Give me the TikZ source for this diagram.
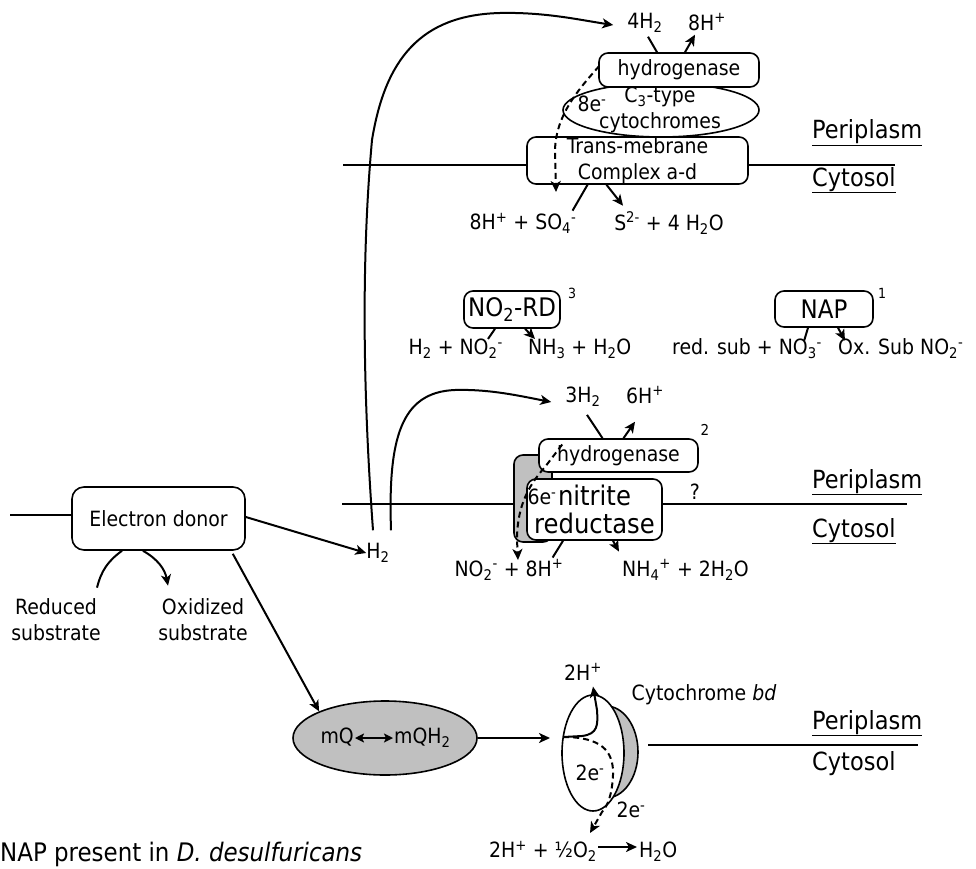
\documentclass[tikz,border=0pt]{standalone}
\usepackage{fontspec}
\setmainfont{DejaVu Sans Condensed}[ItalicFont={DejaVu Sans Condensed Oblique}]
\usetikzlibrary{arrows.meta,shapes.geometric,calc}

\newcommand{\sbs}[1]{\textsubscript{#1}}
\newcommand{\sps}[1]{\textsuperscript{#1}}
\definecolor{shade}{HTML}{C0C0C0}

\tikzset{
  txt/.style={inner sep=0pt, font=\fontsize{21}{26}\selectfont, align=center},
  bigtxt/.style={inner sep=0pt, font=\fontsize{25.5}{30}\selectfont, align=center},
  idx/.style={inner sep=0pt, font=\fontsize{14}{16}\selectfont},
  pbox/.style={draw, rounded corners=9pt, fill=white, line width=1.6pt, inner sep=0pt},
  oval/.style={draw, ellipse, line width=1.6pt, inner sep=0pt},
  conn/.style={line width=2pt},
  arr/.style={line width=2pt, -{Stealth[length=11pt,width=10pt,inset=3pt]}},
  etr/.style={arr, dash pattern=on 6pt off 4pt},
  mem/.style={line width=2pt},
  side/.style={inner sep=0pt, font=\fontsize{25}{30}\selectfont, anchor=base west},
}

\begin{document}
\fontsize{21}{26}\selectfont
\begin{tikzpicture}[x=1pt,y=-1pt]
\useasboundingbox (0,0) rectangle (976,869);

% ---------- sulfate reduction (top membrane) ----------
\draw[mem] (343,165) -- (895,165);
\node[oval, fill=white, minimum width=196pt, minimum height=54pt] (cyt) at (661,110) {};
\node[pbox, txt, minimum width=221pt, minimum height=47pt] (tm) at (637.5,160.5) {Trans-mebrane\\Complex a-d};
\node[pbox, txt, minimum width=160pt, minimum height=34pt] (hyd1) at (679,70) {hydrogenase};
\node[txt] (cyttxt) at (660,110) {C\sbs{3}-type\\cytochromes};
\node[txt] (e8) at (592,104) {8e\sps{-}};
\node[txt] (h4) at (645,23) {4H\sbs{2}};
\node[txt] (hp8) at (707,22) {8H\sps{+}};
\node[txt] (sul) at (523,223) {8H\sps{+} + SO\sbs{4}\sps{-}};
\node[txt] (s2) at (669,223) {S\sps{2-} + 4 H\sbs{2}O};
\node[side] (peri1) at (812,139) {\underline{Periplasm}};
\node[side] (cyto1) at (812,186) {\underline{Cytosol}};

\draw[conn] ($(h4.south)+(3,4)$) -- ($(hyd1.north)+(-22,0)$);
\draw[arr] ($(hyd1.north)+(6,0)$) -- ($(hp8.south)+(-12,4)$);
\draw[conn] ($(sul.north east)+(-4,-2)$) -- ($(tm.south)+(-50,0)$);
\draw[arr] ($(tm.south)+(-31,0)$) -- ($(s2.north west)+(9,-6)$);
\coordinate (e8end) at (556,192);
\draw[etr] ($(hyd1.west)+(1,-4)$) .. controls (578,90) and (556,115) .. (555,150) -- (e8end);

% ---------- nitrite / nitrate reductases ----------
\node[pbox, bigtxt, minimum width=96pt, minimum height=37pt] (rd) at (512,309.5) {NO\sbs{2}-RD};
\node[idx] (n3) at (572,293) {3};
\node[txt, anchor=mid east] (rdl) at (503,349) {H\sbs{2} + NO\sbs{2}\sps{-}};
\node[txt, anchor=mid west] (rdr) at (528,349) {NH\sbs{3} + H\sbs{2}O};
\draw[conn] ($(rdl.north east)+(-15,0)$) -- ($(rd.south)+(-17,0)$);
\draw[arr] ($(rd.south)+(13,0)$) -- ($(rdr.north west)+(7,0)$);

\node[pbox, bigtxt, minimum width=98pt, minimum height=36pt] (nap) at (824,309) {NAP};
\node[idx] (n1) at (882,293) {1};
\node[txt, anchor=mid west] (napl) at (672,349) {red. sub + NO\sbs{3}\sps{-}};
\node[txt, anchor=mid west] (napr) at (838,349) {Ox. Sub NO\sbs{2}\sps{-}};
\draw[conn] ($(napl.north east)+(-18,2)$) -- ($(nap.south)+(-16,0)$);
\draw[arr] ($(nap.south)+(14,0)$) -- ($(napr.north west)+(7,2)$);

% ---------- nitrite ammonification (middle membrane) ----------
\draw[mem] (342,504) -- (907,504);
\node[pbox, fill=shade, minimum width=38pt, minimum height=87pt] (nirb) at (533,498.5) {};
\node[pbox, txt, minimum width=159pt, minimum height=33pt] (hyd2) at (618.5,455.5) {hydrogenase};
\node[pbox, inner sep=0pt, font=\fontsize{27}{28}\selectfont, align=center, minimum width=135pt, minimum height=61pt] (nir) at (594.5,509.5) {nitrite\\reductase};
\node[txt] (e6) at (542,497) {6e\sps{-}};
\node[txt] (q) at (695,492) {?};
\node[idx, font=\fontsize{15}{17}\selectfont] (n2) at (705,430) {2};
\node[txt] (h3) at (583,397) {3H\sbs{2}};
\node[txt] (hp6) at (645,395) {6H\sps{+}};
\node[txt] (nitl) at (509,570) {NO\sbs{2}\sps{-} + 8H\sps{+}};
\node[txt] (amm) at (685.5,570) {NH\sbs{4}\sps{+} + 2H\sbs{2}O};
\node[side] (peri2) at (812,488) {\underline{Periplasm}};
\node[side] (cyto2) at (812,537) {\underline{Cytosol}};

\draw[conn] ($(h3.south)+(4,8)$) -- ($(hyd2.north)+(-16,0)$);
\draw[arr] ($(hyd2.north)+(5,0)$) -- ($(hp6.south)+(-10,18)$);
\coordinate (e6end) at (518,560);
\draw[etr] ($(hyd2.west)+(24,-11)$) -- (545,467) .. controls (526,488) and (517,510) .. (517,540) -- (e6end);
\draw[conn] ($(nitl.north east)+(-11,-2)$) -- ($(nir.south)+(-31.5,0)$);
\draw[arr] ($(nir.south)+(18.5,0)$) -- ($(amm.north west)+(-3,-8)$);

% ---------- electron donor and hydrogen cycling ----------
\coordinate (edin) at (10,515);
\node[pbox, txt, rounded corners=12pt, minimum width=173pt, minimum height=63pt] (ed) at (158.5,518.5) {Electron donor};
\draw[conn] (edin) -- (edin -| ed.west);
\node[txt] (rs) at (56,620) {Reduced\\substrate};
\node[txt] (os) at (203,620) {Oxidized\\substrate};
\draw[conn] ($(rs.north)+(41,-11)$) to[bend left=20] ($(ed.south)+(-36.5,0)$);
\draw[arr] ($(ed.south)+(-15.5,0)$) to[bend left=25] ($(os.north)+(-35,-13)$);

\node[txt] (h2) at (378,553) {H\sbs{2}};
\draw[arr] ($(ed.east)+(0,-1.5)$) -- (h2.west);
\draw[arr] ($(h2.north)+(-5,-13)$) .. controls (362,380) and (362,250) .. (372,140)
  .. controls (385,60) and (420,15) .. (500,13) .. controls (545,12) and (580,20) .. ($(h4.west)+(-14,2)$);
\draw[arr] ($(h2.north)+(13,-13)$) .. controls (388,440) and (400,392) .. (455,390)
  .. controls (490,389) and (520,396) .. ($(h3.west)+(-14,5)$);

% ---------- menaquinone pool and cytochrome bd ----------
\node[oval, fill=shade, minimum width=184pt, minimum height=74pt] (mqe) at (385,738) {};
\node[txt, anchor=mid east] (mq) at (354,738) {mQ};
\node[txt, anchor=mid west] (mqh) at (394,738) {mQH\sbs{2}};
\draw[line width=2pt, {Stealth[length=9pt,width=9pt,inset=2pt]}-{Stealth[length=9pt,width=9pt,inset=2pt]}]
  ($(mq.mid east)+(1,0)$) -- ($(mqh.mid west)+(-1,0)$);
\draw[arr] ($(ed.south east)+(-13,3)$) -- (mqe.158);

\node[oval, fill=shade, minimum width=64pt, minimum height=92pt] (cbb) at (606,752) {};
\node[oval, fill=white, minimum width=62pt, minimum height=116pt] (cbf) at (593,753) {};
\coordinate (cbin) at (550,740);
\draw[arr] (mqe.east) -- (mqe.east -| cbin);
\node[txt] (hp2) at (583,672) {2H\sps{+}};
\node[txt] (e2a) at (590,773) {2e\sps{-}};
\node[txt] (e2b) at (631,810) {2e\sps{-}};
\node[txt] (cbl) at (704,695) {Cytochrome \textit{bd}};
\coordinate (cbq) at ($(cbf.west)+(2,-16)$);
\draw[arr] (cbq) -- (582,736) .. controls (598,734) and (598,725) .. (597,710) -- ($(hp2.south)+(10,6)$);
\coordinate (e2end) at (590,833);
\draw[etr] (cbq) .. controls (600,737) and (614,750) .. (613,775) .. controls (612,795) and (608,805) .. (602,812) -- (e2end);

\draw[mem] (648,745) -- (918,745);
\node[side] (peri3) at (812,729) {\underline{Periplasm}};
\node[side] (cyto3) at (812,770) {Cytosol};

\node[txt, anchor=mid east] (ox) at (597,852) {2H\sps{+} + ½O\sbs{2}};
\node[txt, anchor=mid west] (wat) at (639,852) {H\sbs{2}O};
\draw[arr] ($(ox.mid east)+(1,-5)$) -- ($(wat.mid west)+(-2,-5)$);

\node[inner sep=0pt, font=\fontsize{25.5}{30}\selectfont, anchor=base west] (cap) at (0,861) {NAP present in \textit{D. desulfuricans}};
\end{tikzpicture}
\end{document}
